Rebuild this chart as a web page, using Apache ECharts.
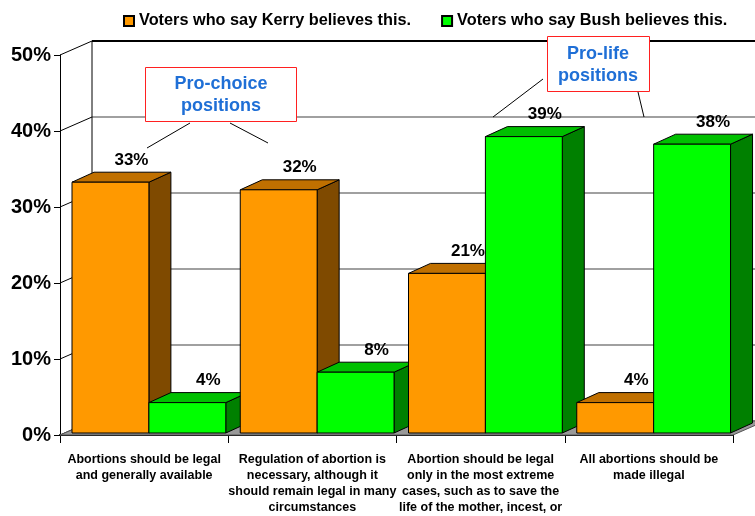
<!DOCTYPE html>
<html>
<head>
<meta charset="utf-8">
<script src="https://cdn.jsdelivr.net/npm/echarts@6/dist/echarts.min.js"></script>
<style>
html,body{margin:0;padding:0;background:#fff;}
#chart{width:755px;height:516px;}
</style>
</head>
<body>
<div id="chart"></div>
<script>
const categories = [
  'Abortions should be legal\nand generally available',
  'Regulation of abortion is\nnecessary, although it\nshould remain legal in many\ncircumstances',
  'Abortion should be legal\nonly in the most extreme\ncases, such as to save the\nlife of the mother, incest, or',
  'All abortions should be\nmade illegal'
];
const kerryValues = [33, 32, 21, 4];
const bushValues = [4, 8, 39, 38];
const yTicks = [0, 10, 20, 30, 40, 50];
const seriesNames = ['Voters who say Kerry believes this.', 'Voters who say Bush believes this.'];

const FONT = '"Liberation Sans", Arial, sans-serif';
const WALL_DX = 32, WALL_DY = -14;
const BAR_DX = 22, BAR_DY = -10;
const palettes = [
  {front: '#FF9900', top: '#C07000', side: '#7F4A00'},
  {front: '#00FF00', top: '#00C000', side: '#008000'}
];

function barRenderer(s) {
  return function (params, api) {
    const ci = api.value(0), v = api.value(1);
    const p0 = api.coord([ci, 0]);
    const p1 = api.coord([ci, v]);
    const band = api.size([1, 0])[0];
    const bw = band * 0.457;
    const l = p0[0] - band * 0.4286 + s * bw;
    const r = l + bw;
    const b = p0[1] - 2;
    const t = p1[1] - 2;
    const c = palettes[s];
    const z = ci * 10 + s * 4;
    const stroke = {stroke: '#000', lineWidth: 1};
    return {
      type: 'group',
      children: [
        {type: 'polygon', z2: z, shape: {points: [[r, t], [r + BAR_DX, t + BAR_DY], [r + BAR_DX, b + BAR_DY], [r, b]]}, style: Object.assign({fill: c.side}, stroke)},
        {type: 'polygon', z2: z + 1, shape: {points: [[l, t], [r, t], [r + BAR_DX, t + BAR_DY], [l + BAR_DX, t + BAR_DY]]}, style: Object.assign({fill: c.top}, stroke)},
        {type: 'rect', z2: z + 2, shape: {x: l, y: t, width: bw, height: b - t}, style: Object.assign({fill: c.front}, stroke)},
        {type: 'text', z2: 100, style: {text: v + '%', x: l + bw / 2 + 21, y: t - 22, align: 'center', verticalAlign: 'middle', font: 'bold 17px ' + FONT, fill: '#000'}}
      ]
    };
  };
}

function wallRenderer(params, api) {
  const v = api.value(0);
  const cs = params.coordSys;
  const x0 = cs.x;
  const W = cs.width;
  const y = api.coord([0, v])[1];
  const children = [];
  const isTop = v === yTicks[yTicks.length - 1];
  children.push({type: 'line', z2: 2, shape: {x1: x0, y1: y, x2: x0 + WALL_DX, y2: y + WALL_DY}, style: {stroke: '#000', lineWidth: 1}});
  children.push({type: 'line', z2: 1, shape: {x1: x0 + WALL_DX, y1: y + WALL_DY, x2: x0 + W + WALL_DX + 40, y2: y + WALL_DY}, style: {stroke: isTop ? '#000' : '#808080', lineWidth: isTop ? 2 : 1.5}});
  if (v === yTicks[0]) {
    const yTop = api.coord([0, yTicks[yTicks.length - 1]])[1];
    children.push({type: 'line', z2: 2, shape: {x1: x0 + WALL_DX, y1: yTop + WALL_DY, x2: x0 + WALL_DX, y2: y + WALL_DY}, style: {stroke: '#000', lineWidth: 1}});
    children.push({type: 'polygon', z2: 3, shape: {points: [[x0, y], [x0 + W, y], [x0 + W + WALL_DX, y + WALL_DY], [x0 + WALL_DX, y + WALL_DY]]}, style: {fill: '#999999', stroke: '#555', lineWidth: 1}});
  }
  return {type: 'group', children: children};
}

const chart = echarts.init(document.getElementById('chart'), null, {renderer: 'canvas'});
chart.setOption({
  backgroundColor: '#fff',
  animation: false,
  textStyle: {fontFamily: FONT},
  legend: {
    data: seriesNames,
    left: 118, top: 8,
    itemWidth: 10, itemHeight: 10, itemGap: 30,
    icon: 'rect',
    textStyle: {fontFamily: FONT, fontWeight: 'bold', fontSize: 16.3, color: '#000'}
  },
  grid: {left: 60, right: 22, top: 55, bottom: 76, containLabel: false},
  xAxis: {
    type: 'category',
    data: categories,
    axisLine: {lineStyle: {color: '#000', width: 2}},
    axisTick: {show: true, length: 8, lineStyle: {color: '#000'}},
    axisLabel: {interval: 0, margin: 17, fontFamily: FONT, fontWeight: 'bold', fontSize: 12.5, lineHeight: 16, color: '#000', align: 'center'},
    splitLine: {show: false}
  },
  yAxis: {
    type: 'value',
    min: 0, max: 50, interval: 10,
    axisLine: {show: true, lineStyle: {color: '#000', width: 1}},
    axisTick: {show: true, length: 6, lineStyle: {color: '#000'}},
    axisLabel: {formatter: '{value}%', margin: 9, fontFamily: FONT, fontWeight: 'bold', fontSize: 20, color: '#000'},
    splitLine: {show: false}
  },
  series: [
    {
      name: 'walls', type: 'custom', z: 1, silent: true,
      data: yTicks.map(v => [v]),
      encode: {y: 0},
      renderItem: wallRenderer
    },
    {
      name: seriesNames[0], type: 'custom', z: 2,
      itemStyle: {color: palettes[0].front, borderColor: '#000', borderWidth: 1},
      data: kerryValues.map((v, i) => [i, v]),
      encode: {x: 0, y: 1},
      renderItem: barRenderer(0)
    },
    {
      name: seriesNames[1], type: 'custom', z: 2,
      itemStyle: {color: palettes[1].front, borderColor: '#000', borderWidth: 1},
      data: bushValues.map((v, i) => [i, v]),
      encode: {x: 0, y: 1},
      renderItem: barRenderer(1)
    }
  ],
  graphic: [
    {type: 'rect', z: 50, shape: {x: 145.5, y: 67.5, width: 151, height: 54}, style: {fill: '#fff', stroke: '#FF2020', lineWidth: 1}},
    {type: 'text', z: 51, style: {x: 221, y: 95, text: 'Pro-choice\npositions', align: 'center', verticalAlign: 'middle', font: 'bold 18px ' + FONT, lineHeight: 22, fill: '#1F6FD6'}},
    {type: 'line', z: 50, shape: {x1: 190, y1: 123, x2: 147, y2: 148}, style: {stroke: '#000', lineWidth: 1}},
    {type: 'line', z: 50, shape: {x1: 230, y1: 123, x2: 268, y2: 143}, style: {stroke: '#000', lineWidth: 1}},
    {type: 'rect', z: 50, shape: {x: 547.5, y: 36.5, width: 102, height: 55}, style: {fill: '#fff', stroke: '#FF2020', lineWidth: 1}},
    {type: 'text', z: 51, style: {x: 598, y: 65, text: 'Pro-life\npositions', align: 'center', verticalAlign: 'middle', font: 'bold 18px ' + FONT, lineHeight: 22, fill: '#1F6FD6'}},
    {type: 'line', z: 50, shape: {x1: 543, y1: 79, x2: 493, y2: 117}, style: {stroke: '#000', lineWidth: 1}},
    {type: 'line', z: 50, shape: {x1: 638, y1: 92, x2: 644, y2: 117}, style: {stroke: '#000', lineWidth: 1}}
  ]
});
</script>
</body>
</html>
